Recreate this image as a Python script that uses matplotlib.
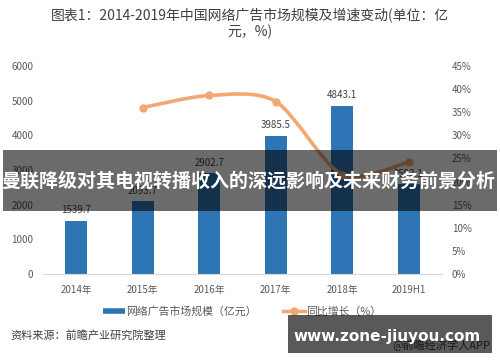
import numpy as np
import matplotlib
matplotlib.use('Agg')
import matplotlib.pyplot as plt
from matplotlib.path import Path
from matplotlib.patches import PathPatch, Rectangle
from matplotlib.lines import Line2D

plt.rcParams['font.family'] = ['Noto Sans CJK SC', 'DejaVu Sans']

# 数据
years = ['2014年', '2015年', '2016年', '2017年', '2018年', '2019H1']
scale = [1539.7, 2093.7, 2902.7, 3985.5, 4843.1, 2592.1]   # 亿元
growth_years = ['2015年', '2016年', '2017年', '2018年', '2019H1']
growth = [36.0, 38.6, 37.3, 21.5, 24.2]                     # %

blue = '#2E75B6'
orange = '#F3A873'
txt = '#595959'

fig = plt.figure(figsize=(5, 3.62), dpi=100)
ax = fig.add_axes([0.086, 0.243, 0.798, 0.575])

x = np.arange(len(years))
ax.bar(x, scale, width=0.33, color=blue, zorder=2)
for xi, v in zip(x, scale):
    ax.annotate(f'{v}', (xi, v), xytext=(0, 4), textcoords='offset points',
                ha='center', va='bottom', fontsize=7, color='#404040')

ax.set_xlim(-0.5, len(years) - 0.5)
ax.set_ylim(0, 6000)
ax.set_yticks(np.arange(0, 6001, 1000))
ax.set_xticks(x)
ax.set_xticklabels(years)
ax.tick_params(axis='y', length=0, pad=7, labelsize=7, labelcolor=txt)
ax.tick_params(axis='x', length=0, pad=8, labelsize=7, labelcolor=txt)
for s in ['left', 'right', 'top']:
    ax.spines[s].set_visible(False)
ax.spines['bottom'].set_color('#D9D9D9')

# 同比增长（平滑曲线）
ax2 = ax.twinx()
ax2.set_ylim(0, 45)
ax2.set_yticks(np.arange(0, 46, 5))
ax2.set_yticklabels([f'{t}%' for t in range(0, 46, 5)])
ax2.tick_params(axis='y', length=0, pad=7, labelsize=7, labelcolor=txt)
for s in ax2.spines.values():
    s.set_visible(False)

gx = [years.index(g) for g in growth_years]
pts = np.column_stack([gx, growth])
n = len(pts)
verts = [pts[0]]
codes = [Path.MOVETO]
for i in range(n - 1):
    p0 = pts[max(i - 1, 0)]
    p1 = pts[i]
    p2 = pts[i + 1]
    p3 = pts[min(i + 2, n - 1)]
    c1 = p1 + (p2 - p0) / 7
    c2 = p2 - (p3 - p1) / 7
    verts += [c1, c2, p2]
    codes += [Path.CURVE4] * 3
ax2.add_patch(PathPatch(Path(verts, codes), fill=False, edgecolor=orange,
                        lw=2.6, zorder=3))
ax2.plot(gx, growth, 'o', ms=5, color=orange, zorder=4)

# 图例
handles = [Line2D([], [], color=blue, lw=4, solid_capstyle='butt'),
           Line2D([], [], color=orange, lw=2.5, marker='o', ms=5)]
fig.legend(handles, ['网络广告市场规模（亿元）', '同比增长（%）'],
           loc='center', bbox_to_anchor=(0.484, 0.141), ncol=2, frameon=False,
           fontsize=7.8, handlelength=2.0, handletextpad=0.1,
           columnspacing=2.5, labelcolor=txt)

# 标题和来源
fig.text(0.5, 1 - 24 / 362,
         '图表1：2014-2019年中国网络广告市场规模及增速变动(单位：亿\n元，%)',
         ha='center', va='center', fontsize=10, color='#404040', linespacing=1.15)
fig.text(10 / 500, 1 - 335 / 362, '资料来源：前瞻产业研究院整理',
         fontsize=8, color='#404040', va='center')
fig.text(392 / 500, 1 - 345 / 362, '@前瞻经济学人APP',
         fontsize=8, color='#404040', va='center')

# 横幅
fig.add_artist(Rectangle((3 / 500, (362 - 211) / 362), 494 / 500, 61 / 362,
                         transform=fig.transFigure, facecolor='black',
                         alpha=0.58, edgecolor='none', zorder=10))
fig.text(0.497, 1 - 181 / 362, '曼联降级对其电视转播收入的深远影响及未来财务前景分析',
         color='white', fontsize=13.7, fontweight='bold',
         ha='center', va='center', zorder=11)

fig.add_artist(Rectangle((288 / 500, (362 - 353) / 362), 204 / 500, 38 / 362,
                         transform=fig.transFigure, facecolor='black',
                         alpha=0.65, edgecolor='none', zorder=10))
fig.text(387.5 / 500, 1 - 337 / 362, 'www.zone-jiuyou.com', color='white',
         fontsize=11, fontweight='bold', family='DejaVu Sans',
         ha='center', va='center', zorder=11)

fig.savefig('out.png', dpi=100)
